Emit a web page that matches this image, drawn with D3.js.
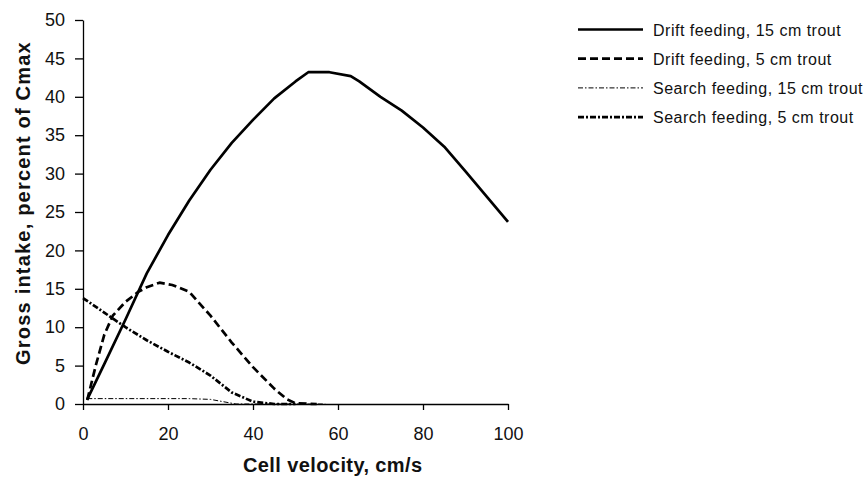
<!DOCTYPE html>
<html>
<head>
<meta charset="utf-8">
<script src="https://cdn.jsdelivr.net/npm/d3@7"></script>
<style>
  html, body { margin: 0; padding: 0; background: #fff; }
  svg { display: block; font-family: "Liberation Sans", Arial, Helvetica, sans-serif; }
</style>
</head>
<body>
<svg id="chart" width="866" height="478"></svg>
<script>
// ---- data ----
const xTicks = [0, 20, 40, 60, 80, 100];
const yTicks = [0, 5, 10, 15, 20, 25, 30, 35, 40, 45, 50];

const drift15V = [1, 5, 10, 15, 20, 25, 30, 35, 40, 45, 50, 53, 58, 63, 65, 70, 75, 80, 85, 90, 95, 100];
const drift15Y = [0.6, 5.2, 11, 17, 22, 26.5, 30.5, 34, 37, 39.8, 42, 43.2, 43.2, 42.7, 42, 40, 38.2, 36, 33.5, 30.3, 27, 23.7];

const drift5V = [1, 3, 5, 7, 10, 13, 15, 18, 21, 25, 30, 35, 40, 45, 48, 50, 55];
const drift5Y = [0.5, 5, 9, 11.5, 13.3, 14.6, 15.2, 15.8, 15.5, 14.6, 11.5, 8, 4.8, 2, 0.6, 0.1, 0];

const search15V = [1, 5, 10, 15, 20, 25, 30, 33, 36, 40, 45, 50, 57];
const search15Y = [0.7, 0.7, 0.7, 0.7, 0.7, 0.7, 0.6, 0.3, 0, 0, 0, 0, 0];

const search5V = [0, 5, 10, 15, 20, 25, 30, 35, 40, 45, 50];
const search5Y = [13.8, 11.9, 10, 8.3, 6.8, 5.4, 3.7, 1.5, 0.3, 0, 0];

const seriesNames = ["Drift feeding, 15 cm trout", "Drift feeding, 5 cm trout", "Search feeding, 15 cm trout", "Search feeding, 5 cm trout"];

// ---- build ----
const series = [
  { name: seriesNames[0], v: drift15V, y: drift15Y, w: 2.7, dash: null },
  { name: seriesNames[1], v: drift5V, y: drift5Y, w: 2.7, dash: "8,4" },
  { name: seriesNames[2], v: search15V, y: search15Y, w: 1, dash: "5,2,1.5,2" },
  { name: seriesNames[3], v: search5V, y: search5Y, w: 2.7, dash: "6,2,2,2" }
];

const svg = d3.select("#chart");
const x = d3.scaleLinear().domain([0, 100]).range([83, 508]);
const y = d3.scaleLinear().domain([0, 50]).range([404, 20]);

const xAxis = svg.append("g").attr("transform", `translate(0,${y(0)})`)
  .call(d3.axisBottom(x).tickValues(xTicks).tickSize(6).tickPadding(17).tickSizeOuter(0));
const yAxis = svg.append("g").attr("transform", `translate(${x(0)},0)`)
  .call(d3.axisLeft(y).tickValues(yTicks).tickSize(8).tickPadding(10).tickSizeOuter(0));

[xAxis, yAxis].forEach(g => {
  g.selectAll("path.domain").attr("stroke", "#000").attr("stroke-width", 1.3);
  g.selectAll(".tick line").attr("stroke", "#000").attr("stroke-width", 1.3);
  g.selectAll(".tick text").attr("fill", "#111").style("font-size", "18px")
    .style("font-family", "'Liberation Sans', Arial, sans-serif");
});

const line = d3.line().x(d => x(d[0])).y(d => y(d[1]));

series.forEach(s => {
  const pts = s.v.map((v, i) => [v, s.y[i]]);
  svg.append("path")
    .datum(pts)
    .attr("d", line)
    .attr("fill", "none")
    .attr("stroke", "#000")
    .attr("stroke-width", s.w)
    .attr("stroke-linejoin", "round")
    .attr("stroke-dasharray", s.dash);
});

// axis titles
svg.append("text")
  .attr("x", 243)
  .attr("y", 472)
  .attr("text-anchor", "start")
  .style("font-size", "20px")
  .style("font-weight", "bold")
  .style("letter-spacing", "0.4px")
  .attr("fill", "#111")
  .text("Cell velocity, cm/s");

svg.append("text")
  .attr("transform", `translate(30,203) rotate(-90)`)
  .attr("text-anchor", "middle")
  .style("font-size", "20px")
  .style("font-weight", "bold")
  .style("letter-spacing", "1.2px")
  .attr("fill", "#111")
  .text("Gross intake, percent of Cmax");

// legend
const legend = svg.append("g");
series.forEach((s, i) => {
  const ly = 29.5 + i * 29.2;
  legend.append("line")
    .attr("x1", 578).attr("x2", 643)
    .attr("y1", ly).attr("y2", ly)
    .attr("stroke", "#000")
    .attr("stroke-width", s.w)
    .attr("stroke-dasharray", s.dash);
  legend.append("text")
    .attr("x", 653).attr("y", ly + 6)
    .style("font-size", "16px")
    .style("letter-spacing", "0.5px")
    .attr("fill", "#111")
    .text(s.name);
});
</script>
</body>
</html>
